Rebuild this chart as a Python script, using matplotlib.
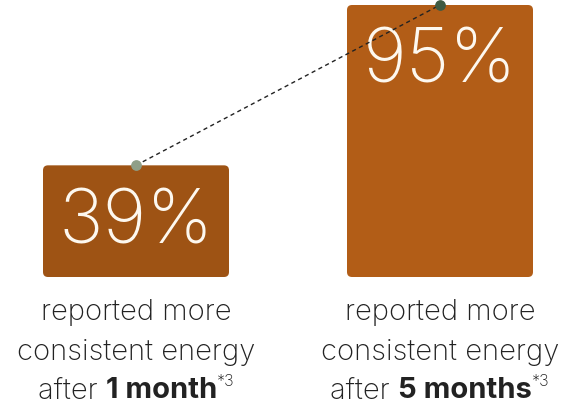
import matplotlib
matplotlib.use("Agg")
import matplotlib.pyplot as plt
from matplotlib.patches import FancyBboxPatch
from matplotlib import transforms

values = [39, 95]
labels = ["39%", "95%"]
periods = ["1 month", "5 months"]
bar_colors = ["#9e5314", "#b25d17"]
dot_colors = ["#8f9f88", "#3f5a42"]

plt.rcParams["font.family"] = ["Inter", "DejaVu Sans"]

fig = plt.figure(figsize=(5.78, 4.12), dpi=100)
W, H = 578, 412
y0_px, y1_px = 277, 5
ax = fig.add_axes([0, (H - y0_px) / H, 1, (y0_px - y1_px) / H])
px_x = 304.0
ax.set_xlim(-136 / px_x, (W - 136) / px_x)
ax.set_ylim(0, 95)
ax.axis("off")

bw = 186 / px_x
aspect = (95 / (y0_px - y1_px)) * px_x
for i, v in enumerate(values):
    p = FancyBboxPatch((i - bw / 2, 0), bw, v,
                       boxstyle="round,pad=0,rounding_size=%f" % (5 / px_x),
                       mutation_aspect=aspect, fc=bar_colors[i], ec="none",
                       clip_on=False)
    ax.add_patch(p)
    ax.text(i, v, labels[i], ha="center", va="center", color="#fdf8ef",
            fontsize=54, fontweight="light",
            transform=ax.transData + transforms.ScaledTranslation(
                0, -58 / 100, fig.dpi_scale_trans))

xs = [0, 1]
ax.plot(xs, values, ls=(0, (3, 2.5)), color="#222222", lw=1, clip_on=False, zorder=3)
for i in range(2):
    ax.scatter(i, values[i], s=45, color=dot_colors[i], zorder=4, clip_on=False)

# labels under bars
fs = 21
text_color = "#222222"
fig.canvas.draw()
r = fig.canvas.get_renderer()
for i in range(2):
    cx = (136 + i * px_x) / W
    fig.text(cx, 1 - 313 / H, "reported more", ha="center", va="center",
             fontsize=fs, color=text_color, fontweight="light")
    fig.text(cx, 1 - 353 / H, "consistent energy", ha="center", va="center",
             fontsize=fs, color=text_color, fontweight="light")
    parts = [("after ", "light", fs), (periods[i], "bold", fs), ("*3", "light", fs * 0.55)]
    widths = []
    for s, wgt, f in parts:
        t = fig.text(0, 0, s, fontsize=f, fontweight=wgt)
        bb = t.get_window_extent(renderer=r)
        widths.append(bb.width)
        t.remove()
    total = sum(widths)
    x = cx * W - total / 2
    for (s, wgt, f), w in zip(parts, widths):
        yy = 1 - 391 / H if f == fs else 1 - 381 / H
        fig.text(x / W, yy, s, ha="left", va="center", fontsize=f,
                 fontweight=wgt, color=text_color)
        x += w

fig.savefig("out.png", dpi=100)
